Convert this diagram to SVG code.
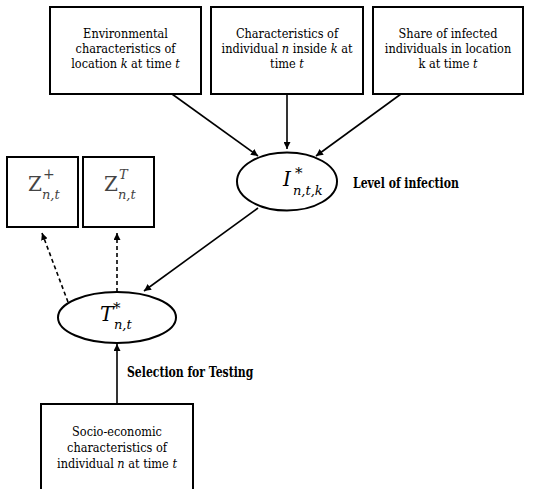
<svg xmlns="http://www.w3.org/2000/svg" width="554" height="489" viewBox="0 0 554 489">
<style>
text{font-family:'DejaVu Serif','Liberation Serif',serif}
.box{fill:#fff;stroke:#000;stroke-width:2}
.ell{fill:#fff;stroke:#000;stroke-width:2}
.t{font-size:12.6px;text-anchor:middle;fill:#000}
.lbl{font-size:14.5px;font-weight:bold;fill:#000}
.m{font-style:italic;fill:#000}
.z{fill:#444}
.c{stroke:#000;stroke-width:1.6;fill:none}
.d{stroke:#000;stroke-width:1.6;fill:none;stroke-dasharray:4 3}
</style>
<defs>
<marker id="ah" viewBox="0 0 10 10" refX="10" refY="5" markerWidth="7" markerHeight="7" markerUnits="userSpaceOnUse" orient="auto"><path d="M0,0 L10,5 L0,10 z" fill="#000"/></marker>
</defs>
<rect width="554" height="489" fill="#fff"/>
<g id="connectors">
<line class="c" x1="172" y1="94" x2="258" y2="156" marker-end="url(#ah)"/>
<line class="c" x1="287" y1="94" x2="287" y2="149" marker-end="url(#ah)"/>
<line class="c" x1="401" y1="94" x2="316" y2="156" marker-end="url(#ah)"/>
<line class="c" x1="258" y1="208" x2="144" y2="291" marker-end="url(#ah)"/>
<line class="d" x1="68" y1="302" x2="42" y2="233" marker-end="url(#ah)"/>
<line class="d" x1="117" y1="292" x2="117" y2="233" marker-end="url(#ah)"/>
<line class="c" x1="117" y1="404" x2="117" y2="344" marker-end="url(#ah)"/>
</g>
<g id="env">
<rect class="box" x="50" y="7" width="151" height="87"/>
<text class="t" transform="translate(125.5,38) scale(0.9,1)">Environmental</text>
<text class="t" transform="translate(125.5,53) scale(0.9,1)">characteristics of</text>
<text class="t" transform="translate(125.5,68) scale(0.9,1)">location <tspan font-style="italic">k</tspan> at time <tspan font-style="italic">t</tspan></text>
</g>
<g id="indiv">
<rect class="box" x="211" y="7" width="152" height="87"/>
<text class="t" transform="translate(287,38) scale(0.9,1)">Characteristics of</text>
<text class="t" transform="translate(287,53) scale(0.9,1)">individual <tspan font-style="italic">n</tspan> inside <tspan font-style="italic">k</tspan> at</text>
<text class="t" transform="translate(287,68) scale(0.9,1)">time <tspan font-style="italic">t</tspan></text>
</g>
<g id="share">
<rect class="box" x="373" y="7" width="150" height="87"/>
<text class="t" transform="translate(448,38) scale(0.9,1)">Share of infected</text>
<text class="t" transform="translate(448,53) scale(0.9,1)">individuals in location</text>
<text class="t" transform="translate(448,68) scale(0.9,1)">k at time <tspan font-style="italic">t</tspan></text>
</g>
<g id="infection">
<ellipse class="ell" cx="287" cy="181.5" rx="50" ry="29"/>
<text class="m" x="283" y="186" font-size="20">I<tspan font-size="15" x="295" dy="-8">*</tspan><tspan font-size="13" x="293" dy="17">n,t,k</tspan></text>
<text class="lbl" transform="translate(353,188) scale(0.75,1)">Level of infection</text>
</g>
<g id="zplus">
<rect class="box" x="7" y="157" width="71" height="70"/>
<text class="z" x="28" y="191" font-size="20">Z<tspan font-size="14" x="43" dy="-12">+</tspan><tspan class="m" font-size="13" x="42" dy="20" style="fill:#444">n,t</tspan></text>
</g>
<g id="ztest">
<rect class="box" x="83" y="157" width="71" height="70"/>
<text class="z" x="104" y="191" font-size="20">Z<tspan font-style="italic" font-size="13" x="119" dy="-12">T</tspan><tspan font-style="italic" font-size="13" x="118" dy="20">n,t</tspan></text>
</g>
<g id="testing">
<ellipse class="ell" cx="117" cy="317.5" rx="59" ry="25.5"/>
<text class="m" x="100" y="321" font-size="20">T<tspan font-size="15" x="113" dy="-8">*</tspan><tspan font-size="13" x="114" dy="16">n,t</tspan></text>
<text class="lbl" transform="translate(127,377) scale(0.75,1)">Selection for Testing</text>
</g>
<g id="socio">
<rect class="box" x="41" y="404" width="152" height="95"/>
<text class="t" transform="translate(117,436) scale(0.9,1)">Socio-economic</text>
<text class="t" transform="translate(117,452) scale(0.9,1)">characteristics of</text>
<text class="t" transform="translate(117,468) scale(0.9,1)">individual <tspan font-style="italic">n</tspan> at time <tspan font-style="italic">t</tspan></text>
</g>
</svg>
